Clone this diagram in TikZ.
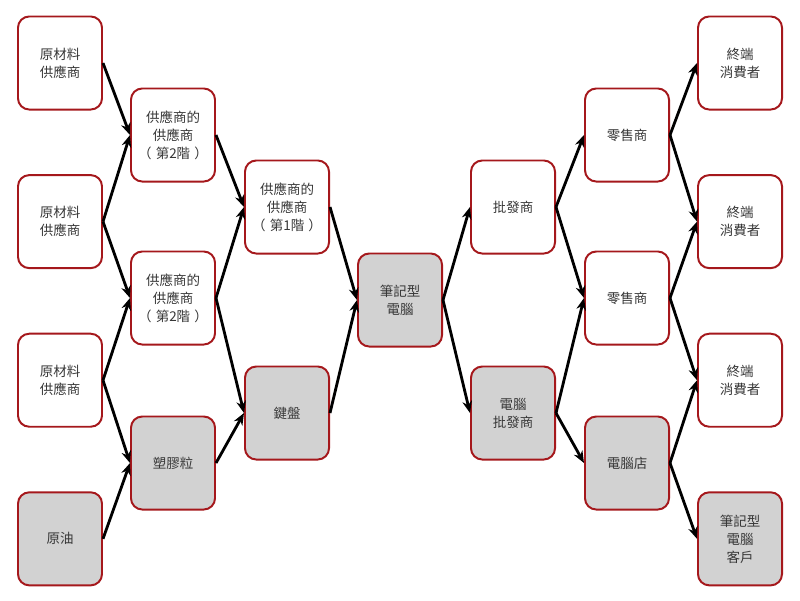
\documentclass[tikz,border=0pt]{standalone}
\usepackage{fontspec}
\usepackage{tikz}
\usetikzlibrary{positioning, arrows.meta}
\setmainfont{Noto Sans CJK TC}
\definecolor{boxred}{RGB}{165,24,28}
\definecolor{boxgray}{RGB}{210,210,210}
\definecolor{textgray}{RGB}{55,55,55}
\newcommand{\lpar}{（\hspace{0.3em}}
\newcommand{\rpar}{\hspace{0.3em}）}

\begin{document}
\begin{tikzpicture}[x=0.025cm, y=-0.025cm,
  box/.style={rectangle, rounded corners=8pt, draw=boxred, line width=1.4pt, fill=white, minimum width=2.1cm, minimum height=2.325cm, align=center, text=textgray, font=\fontsize{9.6}{12.8}\selectfont},
  part/.style={box, fill=boxgray},
  arrow/.style={-{Stealth[length=3mm, width=2.4mm]}, line width=2pt}
]
\useasboundingbox (0,0) rectangle (800,600);
% upstream
\node[box] (raw1) at (60,63) {原材料\\供應商};
\node[box, below=1.59cm of raw1] (raw2) {原材料\\供應商};
\node[box, below=1.59cm of raw2] (raw3) {原材料\\供應商};
\node[part, below=1.59cm of raw3] (crude) {原油};
\node[box] (tierA) at (173,135) {供應商的\\供應商\\\lpar 第2階\rpar};
\node[box] (tierB) at (173,298) {供應商的\\供應商\\\lpar 第2階\rpar};
\node[part] (plastic) at (173,463) {塑膠粒};
\node[box] (tierone) at (287,207) {供應商的\\供應商\\\lpar 第1階\rpar};
\node[part] (keyboard) at (287,413) {鍵盤};
% product
\node[part] (laptop) at (400,300) {筆記型\\電腦};
% downstream
\node[box] (wholesale) at (513,207) {批發商};
\node[part] (pcwholesale) at (513,413) {電腦\\批發商};
\node[box] (retailA) at (627,135) {零售商};
\node[box] (retailB) at (627,298) {零售商};
\node[part] (pcshop) at (627,463) {電腦店};
\node[box] (endA) at (740,63) {終端\\消費者};
\node[box, below=1.59cm of endA] (endB) {終端\\消費者};
\node[box, below=1.59cm of endB] (endC) {終端\\消費者};
\node[part, below=1.59cm of endC] (client) {筆記型\\電腦\\客戶};
% connectors
\draw[arrow] (raw1.east) -- (tierA.west);
\draw[arrow] (raw2.east) -- (tierA.west);
\draw[arrow] (raw2.east) -- (tierB.west);
\draw[arrow] (raw3.east) -- (tierB.west);
\draw[arrow] (raw3.east) -- (plastic.west);
\draw[arrow] (crude.east) -- (plastic.west);
\draw[arrow] (tierA.east) -- (tierone.west);
\draw[arrow] (tierB.east) -- (tierone.west);
\draw[arrow] (tierB.east) -- (keyboard.west);
\draw[arrow] (plastic.east) -- (keyboard.west);
\draw[arrow] (tierone.east) -- (laptop.west);
\draw[arrow] (keyboard.east) -- (laptop.west);
\draw[arrow] (laptop.east) -- (wholesale.west);
\draw[arrow] (laptop.east) -- (pcwholesale.west);
\draw[arrow] (wholesale.east) -- (retailA.west);
\draw[arrow] (wholesale.east) -- (retailB.west);
\draw[arrow] (pcwholesale.east) -- (retailB.west);
\draw[arrow] (pcwholesale.east) -- (pcshop.west);
\draw[arrow] (retailA.east) -- (endA.west);
\draw[arrow] (retailA.east) -- (endB.west);
\draw[arrow] (retailB.east) -- (endB.west);
\draw[arrow] (retailB.east) -- (endC.west);
\draw[arrow] (pcshop.east) -- (endC.west);
\draw[arrow] (pcshop.east) -- (client.west);
\end{tikzpicture}
\end{document}
